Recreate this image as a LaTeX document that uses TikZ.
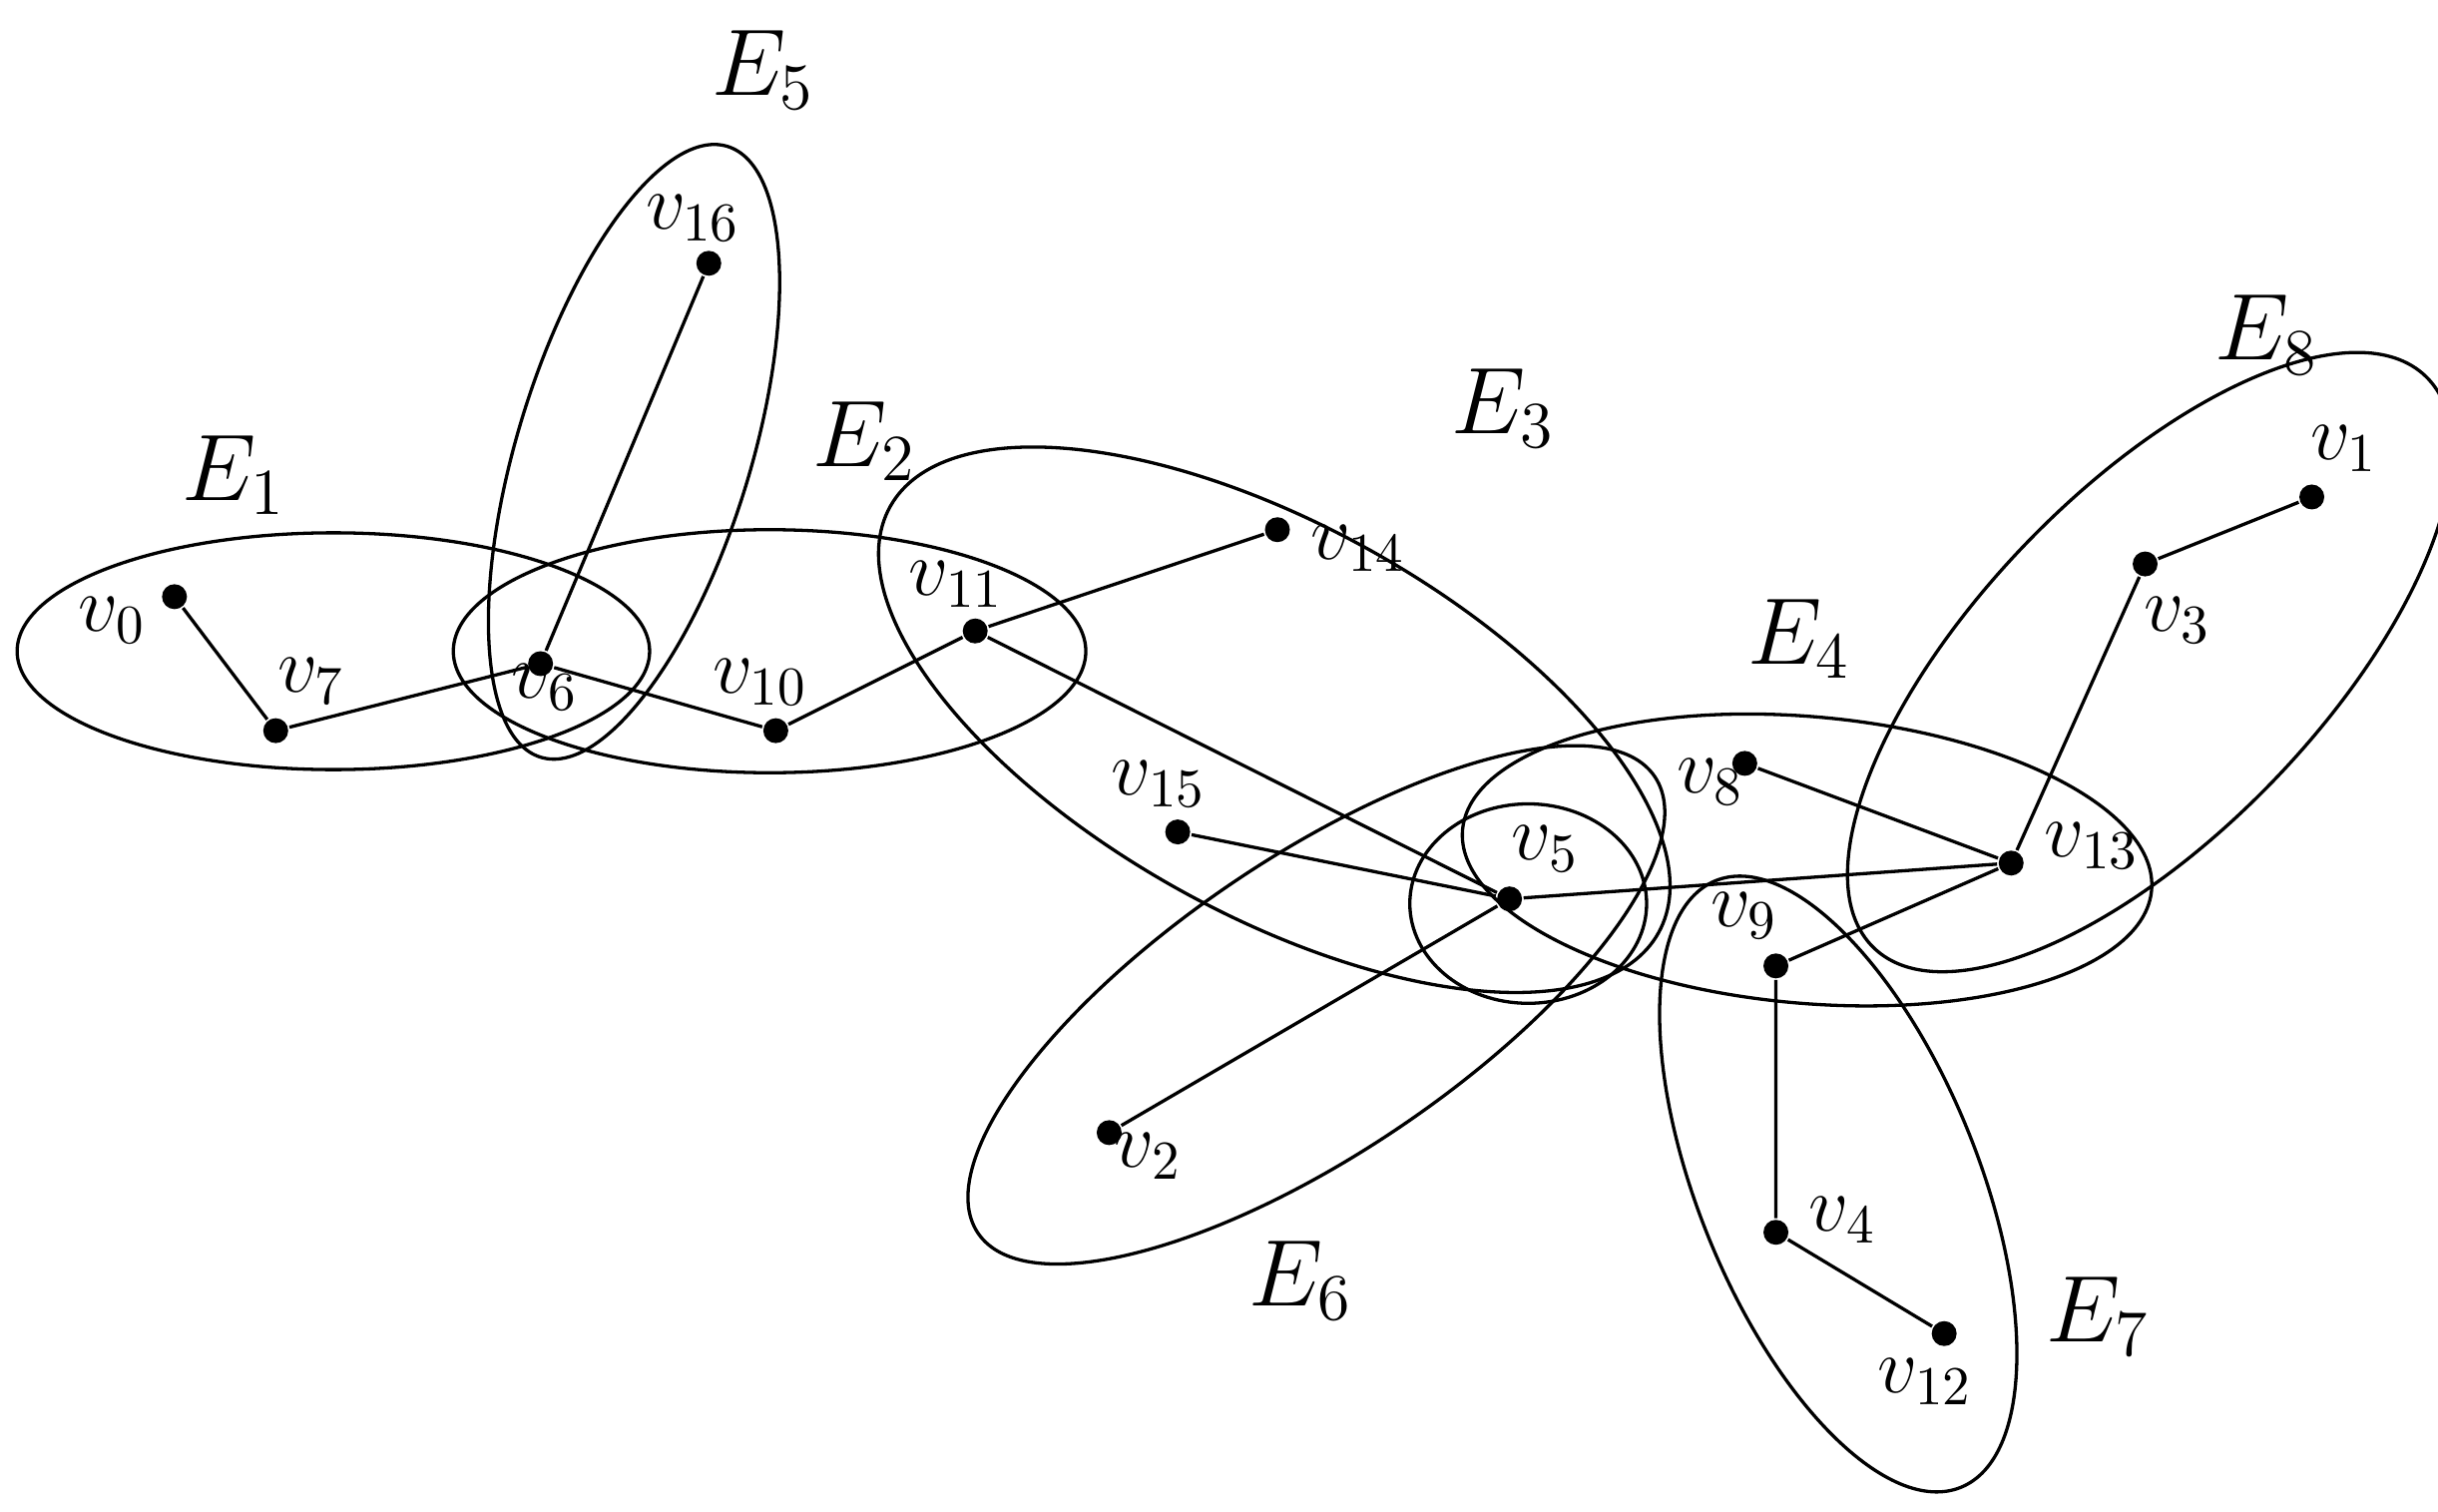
\documentclass[tikz,border=0pt]{standalone}
\begin{document}
\begin{tikzpicture}[x=0.01cm,y=-0.01cm,line width=0.6pt,
  vtx/.style={circle,fill=black,inner sep=0pt,minimum size=0.16cm},
  vl/.style={font=\Large,inner sep=1pt},
  el/.style={font=\LARGE,inner sep=1pt}]
\useasboundingbox (0,0) rectangle (1565,970);
% ellipses
\draw (214,418) ellipse [x radius=203, y radius=76];
\draw (494,418) ellipse [x radius=203, y radius=78];
\draw[rotate around={73:(407,290)}] (407,290) ellipse [x radius=205, y radius=75];
\draw[rotate around={-29:(818,462)}] (818,462) ellipse [x radius=282, y radius=125];
\draw[rotate around={-5:(1160,552)}] (1160,552) ellipse [x radius=222, y radius=92];
\draw (981,580) ellipse [x radius=76, y radius=64];
\draw[rotate around={34:(845,645)}] (845,645) ellipse [x radius=262, y radius=95];
\draw[rotate around={112:(1180,760)}] (1180,760) ellipse [x radius=210, y radius=90];
\draw[rotate around={46:(1380,425)}] (1380,425) ellipse [x radius=255, y radius=110];
% vertices
\node[vtx] (v0) at (112,383) {};
\node[vtx] (v7) at (177,469) {};
\node[vtx] (v6) at (347,426) {};
\node[vtx] (v16) at (455,169) {};
\node[vtx] (v10) at (498,469) {};
\node[vtx] (v11) at (626,405) {};
\node[vtx] (v14) at (820,340) {};
\node[vtx] (v15) at (756,534) {};
\node[vtx] (v5) at (969,577) {};
\node[vtx] (v2) at (712,727) {};
\node[vtx] (v8) at (1120,490) {};
\node[vtx] (v13) at (1291,554) {};
\node[vtx] (v9) at (1140,620) {};
\node[vtx] (v4) at (1140,791) {};
\node[vtx] (v12) at (1248,856) {};
\node[vtx] (v3) at (1377,362) {};
\node[vtx] (v1) at (1484,319) {};
\draw (v0)--(v7)--(v6)--(v16);
\draw (v6)--(v10)--(v11)--(v14);
\draw (v11)--(v5); \draw (v15)--(v5)--(v13); \draw (v5)--(v2);
\draw (v8)--(v13)--(v9)--(v4)--(v12);
\draw (v13)--(v3)--(v1);
% vertex labels
\node[vl] (l0) at (72,398) {$v_0$};
\node[vl] (l7) at (200,437) {$v_7$};
\node[vl] (l6) at (350,441) {$v_6$};
\node[vl] (l16) at (445,140) {$v_{16}$};
\node[vl] (l10) at (488,438) {$v_{10}$};
\node[vl] (l11) at (614,375) {$v_{11}$};
\node[vl] (l14) at (872,352) {$v_{14}$};
\node[vl] (l15) at (744,503) {$v_{15}$};
\node[vl] (l5) at (992,545) {$v_5$};
\node[vl] (l2) at (737,742) {$v_2$};
\node[vl] (l8) at (1098,502) {$v_8$};
\node[vl] (l13) at (1343,543) {$v_{13}$};
\node[vl] (l9) at (1120,588) {$v_9$};
\node[vl] (l4) at (1183,783) {$v_4$};
\node[vl] (l12) at (1236,887) {$v_{12}$};
\node[vl] (l3) at (1398,398) {$v_3$};
\node[vl] (l1) at (1505,288) {$v_1$};
% hyperedge labels
\node[el] (E1) at (150,305) {$E_1$};
\node[el] (E5) at (490,45) {$E_5$};
\node[el] (E2) at (555,283) {$E_2$};
\node[el] (E3) at (965,262) {$E_3$};
\node[el] (E8) at (1455,215) {$E_8$};
\node[el] (E4) at (1155,410) {$E_4$};
\node[el] (E6) at (835,822) {$E_6$};
\node[el] (E7) at (1347,845) {$E_7$};
\end{tikzpicture}
\end{document}
